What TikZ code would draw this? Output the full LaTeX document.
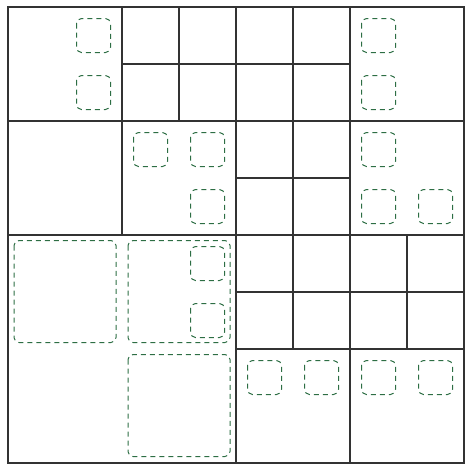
\documentclass[tikz,border=0pt]{standalone}
\definecolor{boxgreen}{RGB}{45,110,68}
\begin{document}
\begin{tikzpicture}[x=1pt,y=-1pt,
  gridline/.style={draw=black!80,line width=1.3pt},
  qbox/.style={draw=boxgreen,line width=1pt,dash pattern=on 5pt off 4pt,rounded corners=5pt}]
\useasboundingbox (0,0) rectangle (473,469);
% small boxes (centered in cells)
\foreach \i/\j in {1/0,1/1,6/0,6/1,2/2,3/2,3/3,6/2,6/3,7/3,3/4,3/5,4/6,5/6,6/6,7/6}{
  \draw[qbox] ({8+57*\i+11.5},{7+57*\j+11.5}) rectangle ++(34,34);
}
% large boxes
\foreach \i/\j in {0/4,2/4,2/6}{
  \draw[qbox] ({8+57*\i+6},{7+57*\j+5.5}) rectangle ++(102,102);
}
% grid
\draw[gridline] (8,7) rectangle (464,463);
\draw[gridline] (8,121) -- (464,121);
\draw[gridline] (8,235) -- (464,235);
\draw[gridline] (236,7) -- (236,463);
\draw[gridline] (350,7) -- (350,463);
\draw[gridline] (122,7) -- (122,235);
\draw[gridline] (179,7) -- (179,121);
\draw[gridline] (293,7) -- (293,349);
\draw[gridline] (407,235) -- (407,349);
\draw[gridline] (122,64) -- (350,64);
\draw[gridline] (236,178) -- (350,178);
\draw[gridline] (236,292) -- (464,292);
\draw[gridline] (236,349) -- (464,349);
\end{tikzpicture}
\end{document}
